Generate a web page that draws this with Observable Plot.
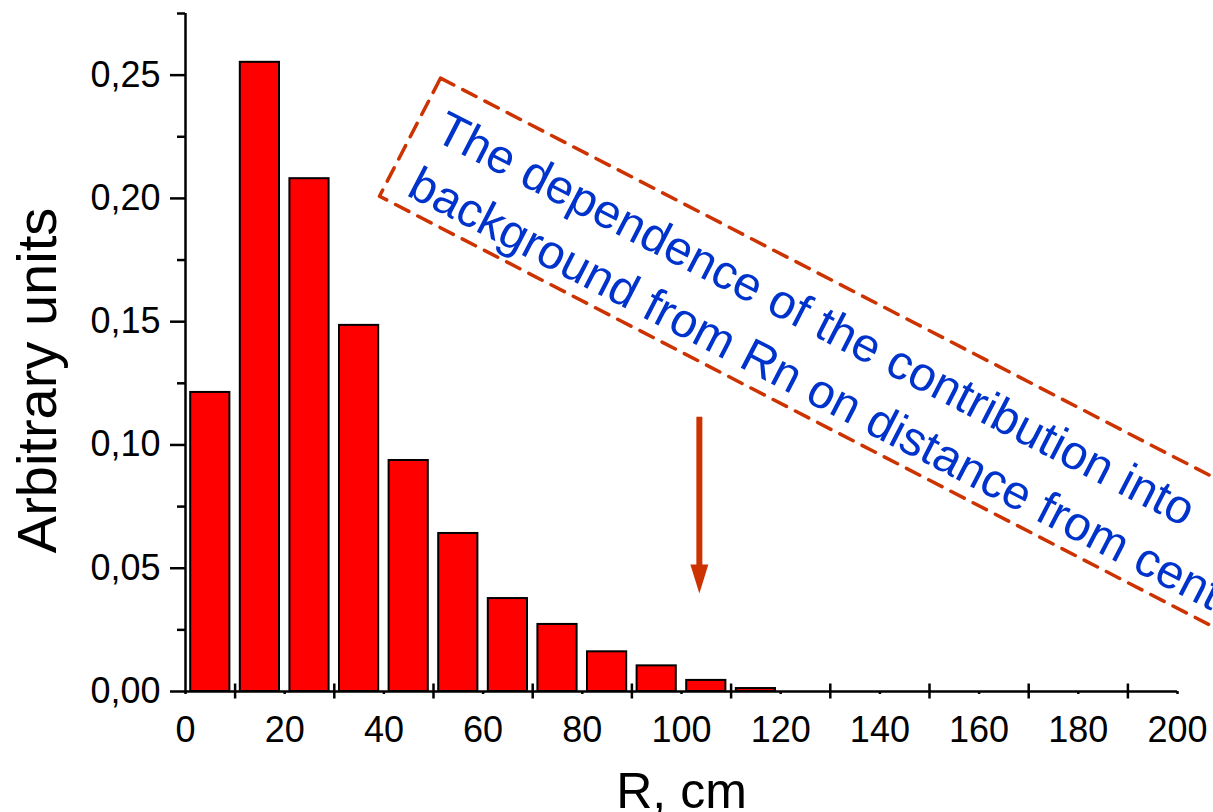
<!DOCTYPE html>
<html>
<head>
<meta charset="utf-8">
<script src="https://cdn.jsdelivr.net/npm/d3@7"></script>
<script src="https://cdn.jsdelivr.net/npm/@observablehq/plot@0.6"></script>
<style>
  html, body { margin: 0; padding: 0; background: #fff; overflow: hidden; }
  #chart svg { font-family: "Liberation Sans", Arial, sans-serif; }
</style>
</head>
<body>
<div id="chart"></div>
<script>
// ---- data ----
const binCenters = [5, 15, 25, 35, 45, 55, 65, 75, 85, 95, 105, 115];
const binValues  = [0.1213, 0.2552, 0.2080, 0.1485, 0.0937, 0.0641, 0.0377, 0.0272, 0.0161, 0.0104, 0.0045, 0.0012];
const binHalfWidth = 3.95;

const yMajorTicks = [0, 0.05, 0.10, 0.15, 0.20, 0.25];
const yMinorTicks = [0.025, 0.075, 0.125, 0.175, 0.225, 0.275];
const xLabelTicks = [0, 20, 40, 60, 80, 100, 120, 140, 160, 180, 200];
const xCrossTicks = [10, 30, 50, 70, 90, 110, 130, 150, 170, 190];

const xTitle = ["R, cm"];
const yTitle = ["Arbitrary units"];

// annotation (rotated note, dashed frame, arrow) in data coordinates
const noteLines = ["The dependence of the contribution into", "background from Rn on distance from center"];
const noteX = [49.8, 44.3];
const noteY = [0.2240, 0.2015];
const frameX = [51.41, 230.56, 218.27, 39.11, 51.41];
const frameY = [0.24878, 0.06266, 0.01477, 0.20089, 0.24878];
const arrowX = [103.6];
const arrowTop = [0.1112];
const arrowHeadBase = [0.0515];
const arrowShaftEnd = [0.0470];

const bars = binCenters.map((c, i) => ({x1: c - binHalfWidth, x2: c + binHalfWidth, y: binValues[i]}));
const notes = noteLines.map((t, i) => ({text: t, x: noteX[i], y: noteY[i]}));
const frame = frameX.map((x, i) => ({x, y: frameY[i]}));

const noteColor = "#cc3300";
const fmt = d => d.toFixed(2).replace(".", ",");

const chart = Plot.plot({
  width: 1213,
  height: 812,
  marginLeft: 185,
  marginRight: 36,
  marginTop: 13,
  marginBottom: 121,
  x: {domain: [0, 200]},
  y: {domain: [0, 0.275]},
  marks: [
    Plot.rectY(bars, {x1: "x1", x2: "x2", y: "y", fill: "#ff0000", stroke: "#000", strokeWidth: 2}),
    Plot.ruleY([0], {stroke: "#000", strokeWidth: 2.5}),
    Plot.ruleX([0], {stroke: "#000", strokeWidth: 2.5}),
    Plot.axisY(yMajorTicks, {tickSize: 15, tickPadding: 10, tickFormat: fmt, fontSize: 36, strokeWidth: 2.5, label: null}),
    Plot.axisY(yMinorTicks, {tickSize: 8, tickFormat: () => "", strokeWidth: 2.5, label: null}),
    Plot.axisX(xLabelTicks, {tickSize: 3, tickPadding: 22, fontSize: 36, strokeWidth: 2.5, label: null}),
    Plot.axisX(xCrossTicks, {tickSize: 15, dy: -7.5, tickFormat: () => "", strokeWidth: 2.5, label: null}),
    Plot.text(yTitle, {frameAnchor: "left", textAnchor: "middle", rotate: -90, dx: -130, dy: 28, lineAnchor: "bottom", fontSize: 56, fill: "#000"}),
    Plot.text(xTitle, {frameAnchor: "bottom", textAnchor: "middle", dy: 116, lineAnchor: "bottom", fontSize: 50, fill: "#000"}),
    Plot.line(frame, {x: "x", y: "y", stroke: noteColor, strokeWidth: 3.5, strokeDasharray: "15,10"}),
    Plot.text(notes, {x: "x", y: "y", text: "text", rotate: 27.3, textAnchor: "start", lineAnchor: "bottom", fontSize: 48, fill: "#0033cc"}),
    Plot.ruleX(arrowX, {y1: arrowTop, y2: arrowShaftEnd, stroke: noteColor, strokeWidth: 6}),
    Plot.vector(arrowX, {x: d => d, y: arrowHeadBase, length: 29, r: 9, rotate: 180, shape: "spike", anchor: "start", fill: noteColor, stroke: "none"})
  ]
});
document.getElementById("chart").appendChild(chart);
</script>
</body>
</html>
